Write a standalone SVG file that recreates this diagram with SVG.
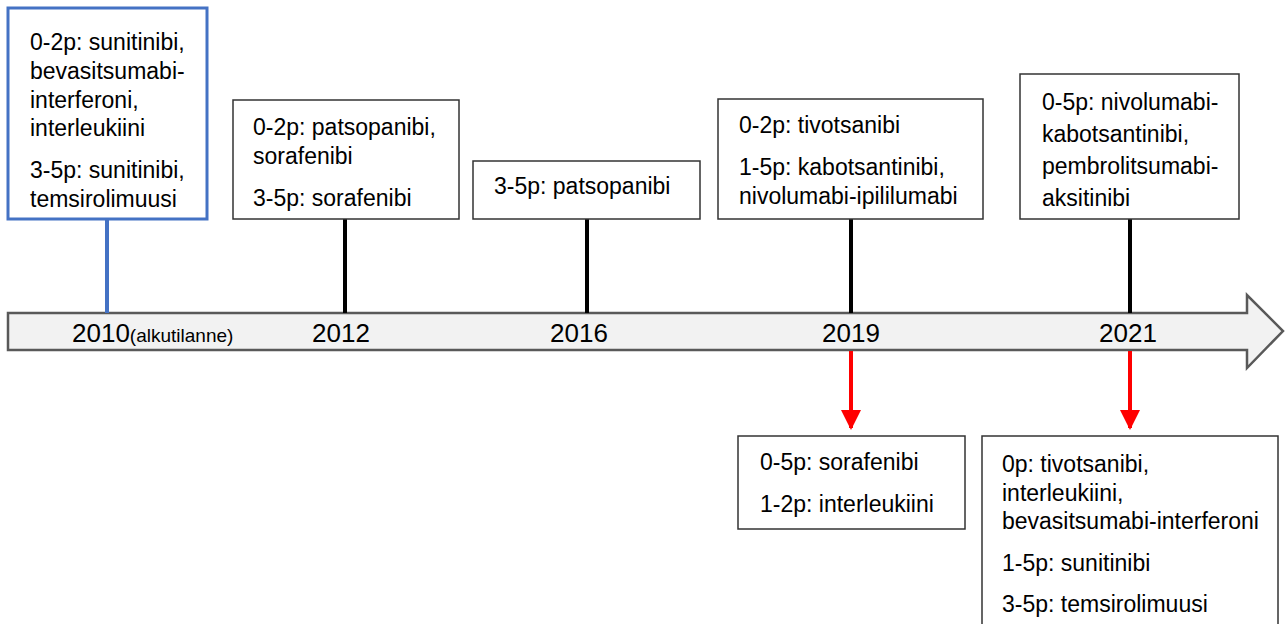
<svg xmlns="http://www.w3.org/2000/svg" width="1285" height="624" viewBox="0 0 1285 624">
<style>
text{font-family:"Liberation Sans",Arial,sans-serif;font-size:23px;fill:#000}
.box{fill:#fff;stroke:#333;stroke-width:1.5}
.yr{font-size:26px;text-anchor:middle}
.stem{stroke:#000;stroke-width:4}
.red{stroke:#f00;stroke-width:4}
</style>
<defs>
<marker id="rh" viewBox="0 0 10 10" refX="9" refY="5" markerWidth="5" markerHeight="5.5" orient="auto" markerUnits="strokeWidth">
<path d="M0,0 L10,5 L0,10 z" fill="#f00"/>
</marker>
</defs>
<g id="timeline">
<path d="M8,313 L1247,313 L1247,295 L1283,331 L1247,368 L1247,350 L8,350 Z" fill="#f2f2f2" stroke="#595959" stroke-width="2.5"/>
<text x="72" y="342" style="font-size:26px">2010<tspan style="font-size:19px">(alkutilanne)</tspan></text>
<text class="yr" x="341" y="342">2012</text>
<text class="yr" x="579" y="342">2016</text>
<text class="yr" x="851" y="342">2019</text>
<text class="yr" x="1128" y="342">2021</text>
</g>
<g id="connectors">
<line x1="107" y1="219" x2="107" y2="313" stroke="#4472c4" stroke-width="4"/>
<line class="stem" x1="345" y1="219" x2="345" y2="313"/>
<line class="stem" x1="587" y1="219" x2="587" y2="313"/>
<line class="stem" x1="851" y1="219" x2="851" y2="313"/>
<line class="stem" x1="1130" y1="219" x2="1130" y2="313"/>
<line class="red" x1="851" y1="351" x2="851" y2="428" marker-end="url(#rh)"/>
<line class="red" x1="1130" y1="351" x2="1130" y2="428" marker-end="url(#rh)"/>
</g>
<g id="n2010">
<rect x="8" y="8" width="199" height="211" fill="#fff" stroke="#4472c4" stroke-width="3"/>
<text x="30" y="50">0-2p: sunitinibi,</text>
<text x="30" y="79">bevasitsumabi-</text>
<text x="30" y="108">interferoni,</text>
<text x="30" y="136">interleukiini</text>
<text x="30" y="178">3-5p: sunitinibi,</text>
<text x="30" y="207">temsirolimuusi</text>
</g>
<g id="n2012">
<rect class="box" x="233" y="100" width="226" height="119"/>
<text x="253" y="135">0-2p: patsopanibi,</text>
<text x="253" y="164">sorafenibi</text>
<text x="253" y="206">3-5p: sorafenibi</text>
</g>
<g id="n2016">
<rect class="box" x="473" y="161" width="227" height="58"/>
<text x="494" y="194">3-5p: patsopanibi</text>
</g>
<g id="n2019">
<rect class="box" x="718" y="99" width="265" height="120"/>
<text x="739" y="133">0-2p: tivotsanibi</text>
<text x="739" y="175">1-5p: kabotsantinibi,</text>
<text x="739" y="204">nivolumabi-ipililumabi</text>
</g>
<g id="n2021">
<rect class="box" x="1020" y="74" width="219" height="145"/>
<text x="1042" y="110">0-5p: nivolumabi-</text>
<text x="1042" y="142">kabotsantinibi,</text>
<text x="1042" y="174">pembrolitsumabi-</text>
<text x="1042" y="206">aksitinibi</text>
</g>
<g id="r2019">
<rect class="box" x="738" y="436" width="227" height="93"/>
<text x="760" y="470">0-5p: sorafenibi</text>
<text x="760" y="512">1-2p: interleukiini</text>
</g>
<g id="r2021">
<rect class="box" x="982" y="436" width="296" height="200"/>
<text x="1002" y="472">0p: tivotsanibi,</text>
<text x="1002" y="501">interleukiini,</text>
<text x="1002" y="529">bevasitsumabi-interferoni</text>
<text x="1002" y="571">1-5p: sunitinibi</text>
<text x="1002" y="612">3-5p: temsirolimuusi</text>
</g>
</svg>
